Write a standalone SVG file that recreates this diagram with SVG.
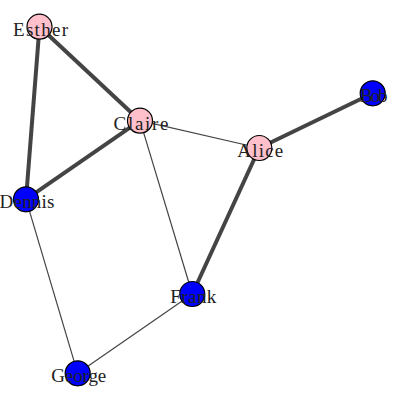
<svg xmlns="http://www.w3.org/2000/svg" width="400" height="400" viewBox="0 0 400 400">
<style>
.e{stroke:#444;fill:none}
.thick{stroke-width:4}
.thin{stroke-width:1.2}
.n circle{stroke:#000;stroke-width:1.2}
.pink{fill:#ffc0cb}
.blue{fill:#0000ff}
.n text{font-family:"Liberation Serif","DejaVu Serif",serif;font-size:19px;fill:#222;text-anchor:middle}
</style>
<rect width="400" height="400" fill="#fff"/>
<g id="edges">
<line class="e thick" x1="39.5" y1="26.7" x2="140" y2="120.7"/>
<line class="e thick" x1="39.5" y1="26.7" x2="26" y2="199.3"/>
<line class="e thick" x1="140" y1="120.7" x2="26" y2="199.3"/>
<line class="e thin" x1="140" y1="120.7" x2="259.3" y2="148"/>
<line class="e thin" x1="140" y1="120.7" x2="192.3" y2="294"/>
<line class="e thick" x1="259.3" y1="148" x2="372.7" y2="93.3"/>
<line class="e thick" x1="259.3" y1="148" x2="192.3" y2="294"/>
<line class="e thin" x1="26" y1="199.3" x2="77.7" y2="373.3"/>
<line class="e thin" x1="77.7" y1="373.3" x2="192.3" y2="294"/>
</g>
<g id="Esther" class="n"><circle class="pink" cx="39.5" cy="26.7" r="12.5"/><text x="40.5" y="35.5" textLength="55" lengthAdjust="spacing">Esther</text></g>
<g id="Claire" class="n"><circle class="pink" cx="140" cy="120.7" r="12.5"/><text x="141" y="129.5" textLength="55" lengthAdjust="spacing">Claire</text></g>
<g id="Alice" class="n"><circle class="pink" cx="259.3" cy="148" r="12.5"/><text x="260.3" y="156.8" textLength="46" lengthAdjust="spacing">Alice</text></g>
<g id="Bob" class="n"><circle class="blue" cx="372.7" cy="93.3" r="12.5"/><text x="373.7" y="102.1" textLength="27.5" lengthAdjust="spacing">Bob</text></g>
<g id="Dennis" class="n"><circle class="blue" cx="26" cy="199.3" r="12.5"/><text x="27" y="208.1" textLength="55" lengthAdjust="spacing">Dennis</text></g>
<g id="Frank" class="n"><circle class="blue" cx="192.3" cy="294" r="12.5"/><text x="193.3" y="302.8" textLength="46" lengthAdjust="spacing">Frank</text></g>
<g id="George" class="n"><circle class="blue" cx="77.7" cy="373.3" r="12.5"/><text x="78.7" y="382.1" textLength="55" lengthAdjust="spacing">George</text></g>
</svg>
